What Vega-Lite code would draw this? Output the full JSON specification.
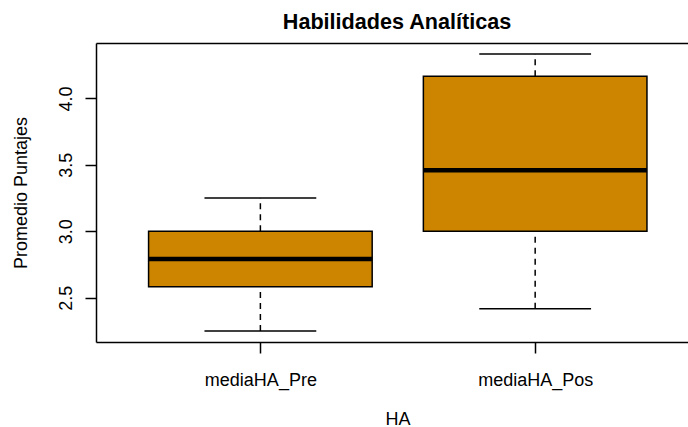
{
  "$schema": "https://vega.github.io/schema/vega-lite/v6.json",
  "width": 592,
  "height": 299,
  "autosize": {"type": "none"},
  "padding": {"left": 96, "top": 43, "right": 0, "bottom": 85},
  "background": "white",
  "title": {
    "text": "Habilidades Analíticas",
    "font": "Liberation Sans",
    "fontSize": 21.6,
    "fontWeight": "bold",
    "color": "black",
    "anchor": "middle",
    "frame": "group",
    "baseline": "alphabetic",
    "offset": -8,
    "dx": 5
  },
  "data": {
    "values": [
      {"grupo": "mediaHA_Pre", "pos": 1, "min": 2.25, "q1": 2.5833, "med": 2.7917, "q3": 3.0, "max": 3.25},
      {"grupo": "mediaHA_Pos", "pos": 2, "min": 2.4167, "q1": 3.0, "med": 3.4583, "q3": 4.1667, "max": 4.3333}
    ]
  },
  "resolve": {"axis": {"x": "independent", "y": "independent"}},
  "layer": [
    {
      "mark": {"type": "rule", "color": "black", "strokeWidth": 1.5, "strokeDash": [6, 5]},
      "encoding": {
        "x": {
          "field": "pos", "type": "quantitative",
          "scale": {"domain": [0.42, 2.538], "nice": false, "zero": false},
          "axis": {
            "orient": "bottom", "values": [1, 2],
            "labelExpr": "datum.value == 1 ? 'mediaHA_Pre' : 'mediaHA_Pos'",
            "grid": false, "domainColor": "black", "domainWidth": 1.5,
            "tickColor": "black", "tickWidth": 1.5, "tickSize": 11,
            "labelFont": "Liberation Sans", "labelFontSize": 18, "labelColor": "black",
            "labelBaseline": "alphabetic", "labelPadding": 32, "labelAlign": "center",
            "title": "HA", "titleFont": "Liberation Sans", "titleFontSize": 18,
            "titleFontWeight": "normal", "titleColor": "black",
            "titleBaseline": "alphabetic", "titleX": 301.5, "titleY": 82
          }
        },
        "y": {
          "field": "q3", "type": "quantitative",
          "scale": {"domain": [2.1667, 4.4167], "nice": false, "zero": false},
          "axis": {
            "orient": "left", "values": [2.5, 3.0, 3.5, 4.0], "format": ".1f",
            "grid": false, "domainColor": "black", "domainWidth": 1.5,
            "tickColor": "black", "tickWidth": 1.5, "tickSize": 11,
            "labelFont": "Liberation Sans", "labelFontSize": 18, "labelColor": "black",
            "labelAngle": -90, "labelAlign": "center", "labelBaseline": "alphabetic",
            "labelPadding": 14,
            "title": "Promedio Puntajes", "titleFont": "Liberation Sans", "titleFontSize": 18,
            "titleFontWeight": "normal", "titleColor": "black",
            "titleAngle": -90, "titleBaseline": "alphabetic", "titleAlign": "center",
            "titleX": -70, "titleY": 149.5
          }
        },
        "y2": {"field": "max"}
      }
    },
    {
      "mark": {"type": "rule", "color": "black", "strokeWidth": 1.5, "strokeDash": [6, 5]},
      "encoding": {
        "x": {"field": "pos", "type": "quantitative", "axis": null},
        "y": {"field": "min", "type": "quantitative", "axis": null},
        "y2": {"field": "q1"}
      }
    },
    {
      "mark": {"type": "bar", "width": 223.6, "fill": "#CD8500", "stroke": "black", "strokeWidth": 1.5},
      "encoding": {
        "x": {"field": "pos", "type": "quantitative", "axis": null},
        "y": {"field": "q1", "type": "quantitative", "axis": null},
        "y2": {"field": "q3"}
      }
    },
    {
      "mark": {"type": "tick", "orient": "horizontal", "size": 223.6, "thickness": 4.5, "color": "black", "opacity": 1},
      "encoding": {
        "x": {
          "field": "pos", "type": "quantitative",
          "axis": {"orient": "top", "labels": false, "ticks": false, "title": null, "grid": false,
                   "domain": true, "domainColor": "black", "domainWidth": 1.5}
        },
        "y": {"field": "med", "type": "quantitative", "axis": null}
      }
    },
    {
      "mark": {"type": "tick", "orient": "horizontal", "size": 111.8, "thickness": 1.5, "color": "black", "opacity": 1},
      "encoding": {
        "x": {"field": "pos", "type": "quantitative", "axis": null},
        "y": {"field": "max", "type": "quantitative", "axis": null}
      }
    },
    {
      "mark": {"type": "tick", "orient": "horizontal", "size": 111.8, "thickness": 1.5, "color": "black", "opacity": 1},
      "encoding": {
        "x": {"field": "pos", "type": "quantitative", "axis": null},
        "y": {"field": "min", "type": "quantitative", "axis": null}
      }
    }
  ],
  "config": {"view": {"stroke": null}}
}
